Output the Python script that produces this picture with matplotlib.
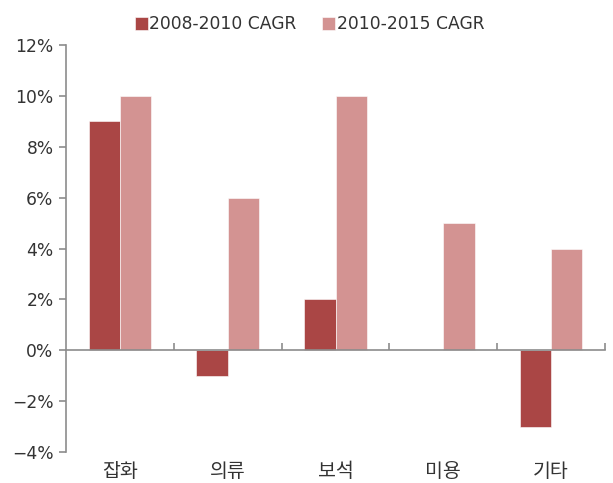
import numpy as np
import matplotlib
matplotlib.use("Agg")
import matplotlib.pyplot as plt
from matplotlib.ticker import FixedLocator, FuncFormatter
from matplotlib.transforms import blended_transform_factory

plt.rcParams['font.family'] = ['DejaVu Sans', 'Noto Sans CJK KR']

# ─── data ─────────────────────────────────────────────────────────────────────
categories = ["잡화", "의류", "보석", "미용", "기타"]
cagr_2008_2010 = [9, -1, 2, 0, -3]
cagr_2010_2015 = [10, 6, 10, 5, 4]
series_labels = ["2008-2010 CAGR", "2010-2015 CAGR"]
y_ticks = [-4, -2, 0, 2, 4, 6, 8, 10, 12]

DARK = "#AA4645"
LIGHT = "#D39392"
AXIS = "#8C8C8C"
TEXT = "#333333"
FS = 12.3

fig = plt.figure(figsize=(6.13, 4.83), dpi=100)
ax = fig.add_axes([0.1077, 0.0642, 0.987 - 0.1077, 0.9068 - 0.0642])

x = np.arange(len(categories))
w = 0.29
ax.bar(x - w / 2, cagr_2008_2010, width=w, color=DARK, edgecolor="white",
       linewidth=0.4, label=series_labels[0], zorder=2)
ax.bar(x + w / 2, cagr_2010_2015, width=w, color=LIGHT, edgecolor="white",
       linewidth=0.4, label=series_labels[1], zorder=2)

ax.set_xlim(-0.5, len(categories) - 0.5)
ax.set_ylim(-4, 12)

for s in ("top", "right"):
    ax.spines[s].set_visible(False)
ax.spines["left"].set_color(AXIS)
ax.spines["left"].set_linewidth(1.2)
ax.spines["bottom"].set_position(("data", 0))
ax.spines["bottom"].set_color(AXIS)
ax.spines["bottom"].set_linewidth(1.2)

ax.yaxis.set_major_locator(FixedLocator(y_ticks))
ax.yaxis.set_major_formatter(FuncFormatter(lambda v, _: f"{int(v)}%".replace("-", "\u2212")))
ax.tick_params(axis="y", direction="out", length=5, color=AXIS, width=1.2,
               labelsize=FS, labelcolor=TEXT, pad=4)

# category boundary ticks on the zero line, pointing up
ax.xaxis.set_major_locator(FixedLocator(np.arange(0.5, len(categories) + 0.5, 1.0)))
ax.tick_params(axis="x", direction="in", length=5, color=AXIS, width=1.2,
               labelbottom=False)

trans = blended_transform_factory(ax.transData, ax.transAxes)
for xi, name in zip(x, categories):
    ax.text(xi, -0.025, name, transform=trans, ha="center", va="top",
            fontsize=14, color=TEXT)

fig.legend(loc="upper center", bbox_to_anchor=(0.505, 1.0), ncol=2, frameon=False,
           fontsize=FS, handlelength=0.75, handleheight=0.75, handletextpad=0.1,
           columnspacing=1.5, labelcolor=TEXT)

fig.savefig("out.png", dpi=100)
